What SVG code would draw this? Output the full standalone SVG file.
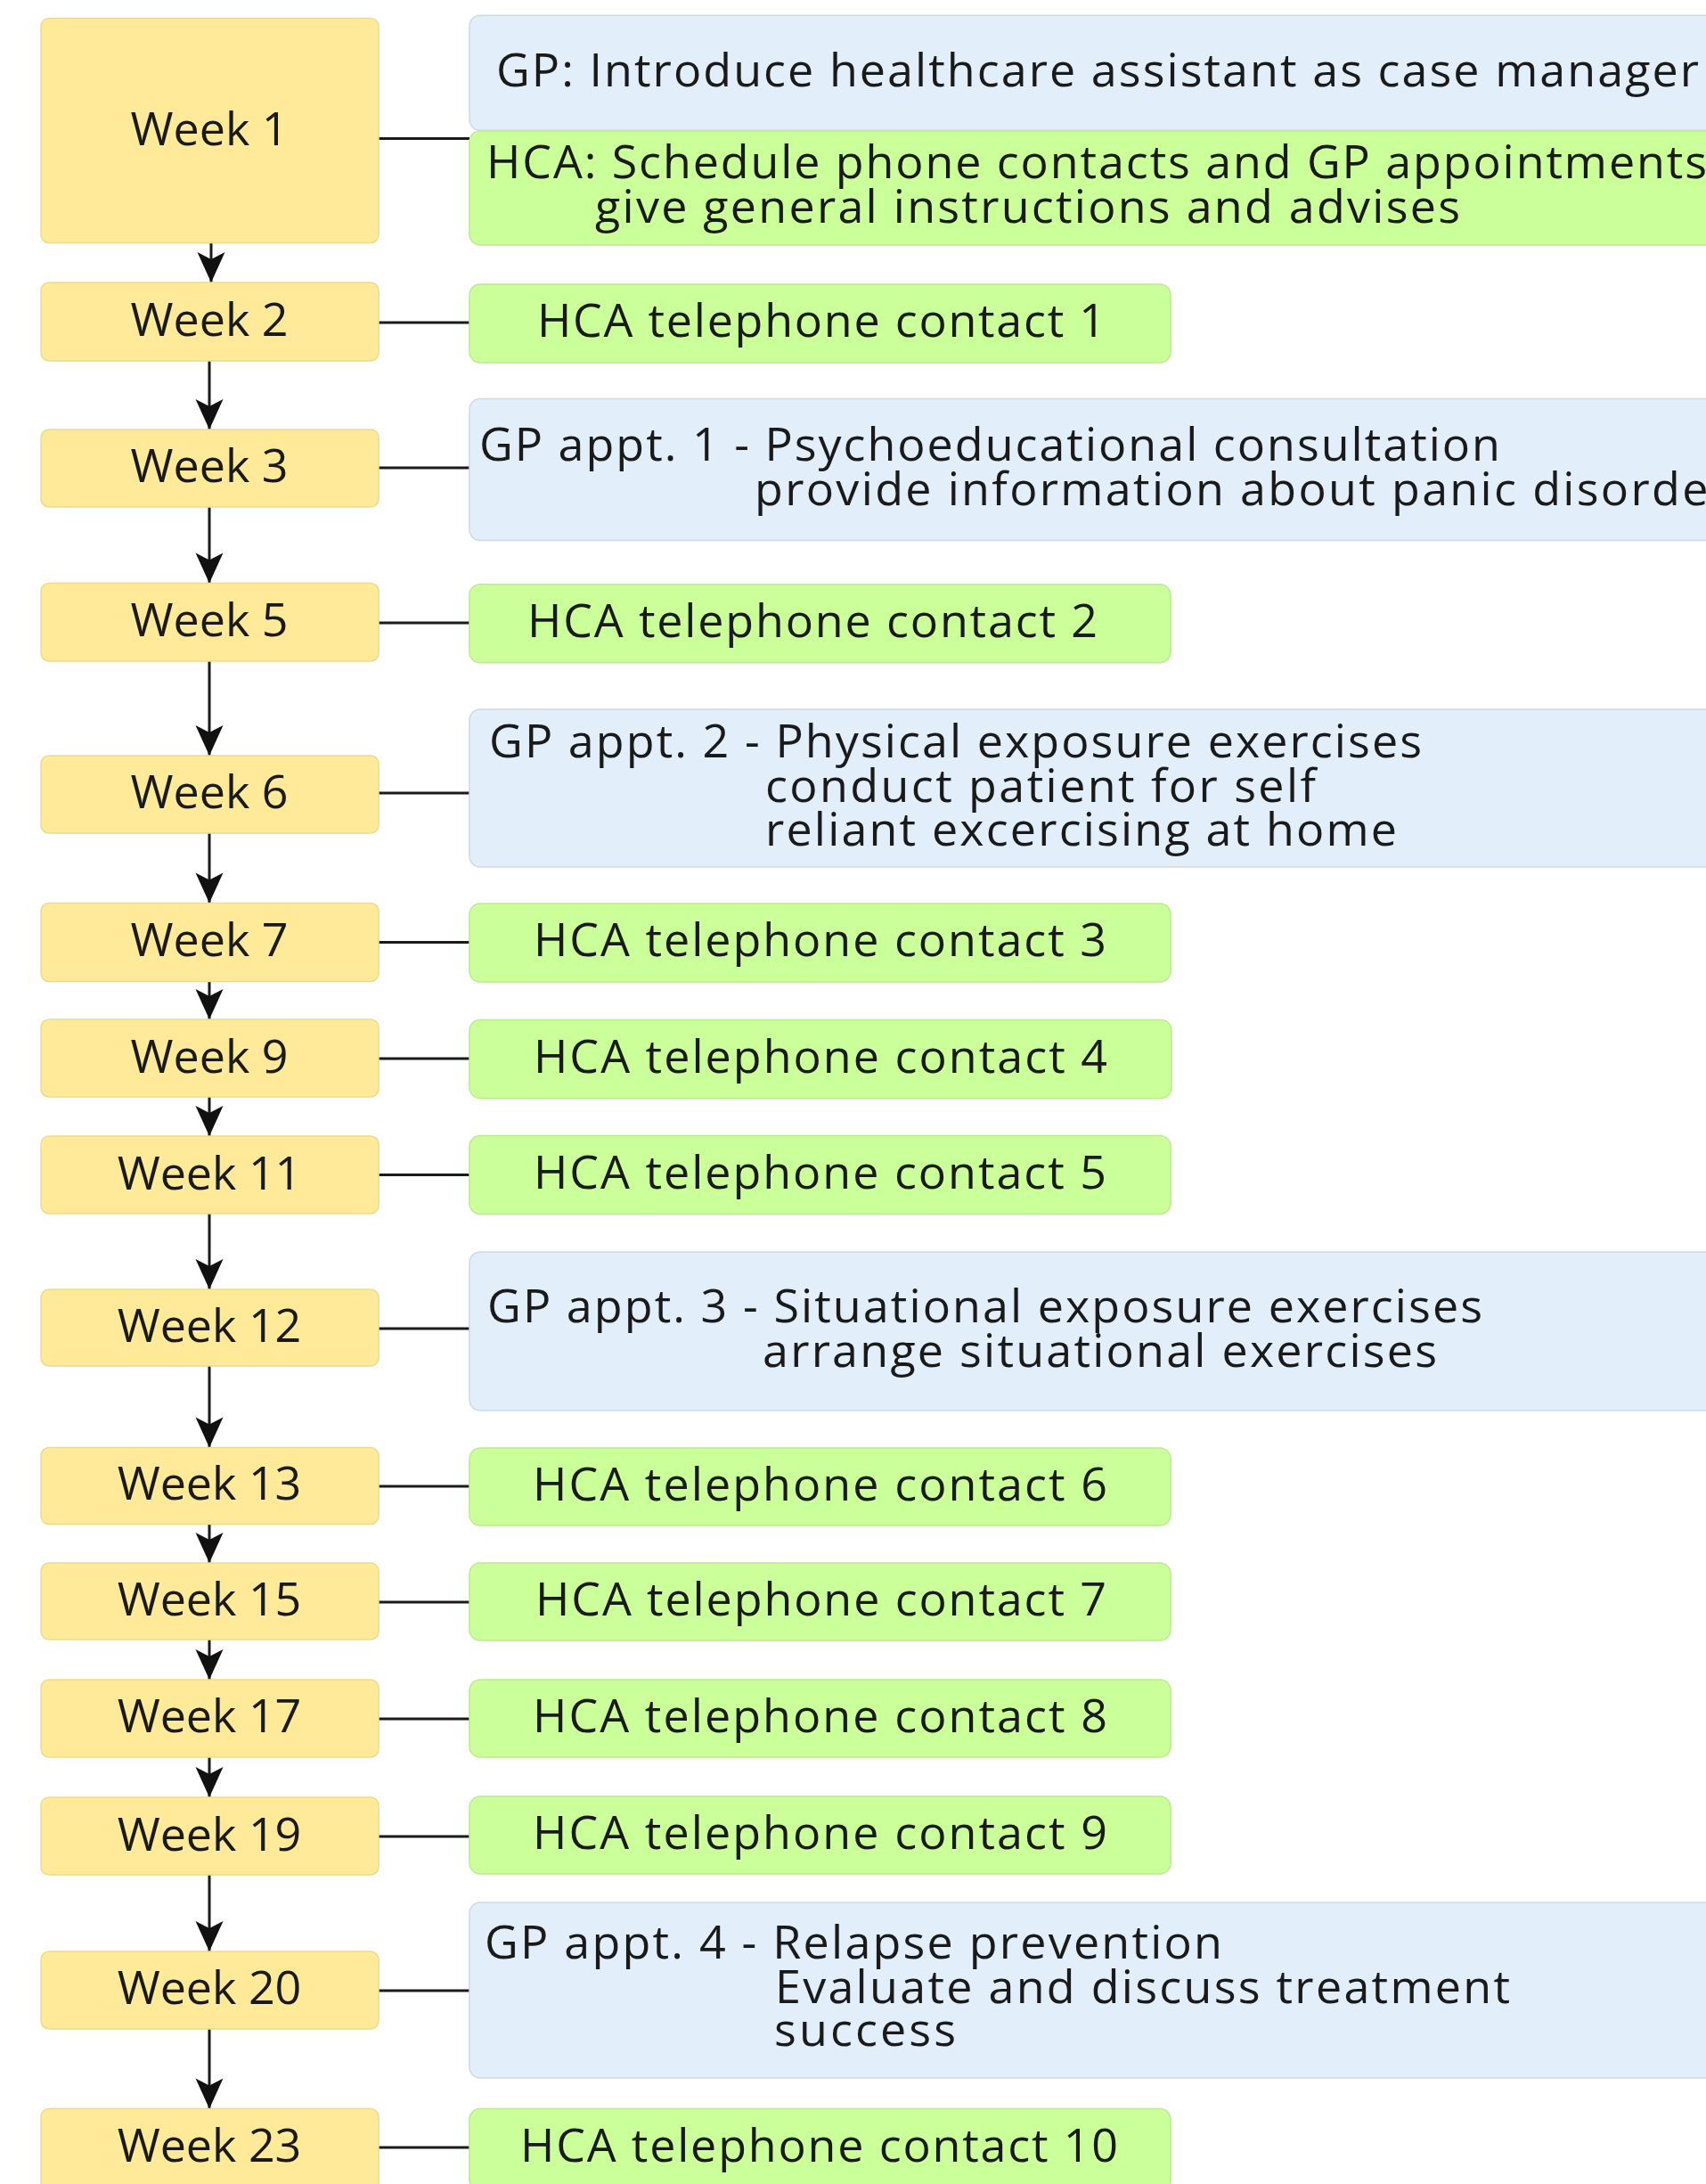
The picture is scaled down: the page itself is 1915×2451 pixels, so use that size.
<svg xmlns="http://www.w3.org/2000/svg" width="1915" height="2451" viewBox="0 0 1915 2451">
<defs>
<style>
.wk{fill:#FEEA98;stroke:#ecdb8e;stroke-width:1.5}
.gr{fill:#CBFF99;stroke:#bde98f;stroke-width:1.5}
.bl{fill:#E2EEFA;stroke:#cfd9e4;stroke-width:1.5}
text{font-family:"Open Sans","Noto Sans","Liberation Sans",sans-serif;font-size:52px;fill:#1a1a1a}
.wt{text-anchor:middle}
.ln{stroke:#1a1a1a;stroke-width:3;fill:none}
.ar{stroke:#1a1a1a;stroke-width:3;fill:none;marker-end:url(#ah)}
</style>
<marker id="ah" markerUnits="userSpaceOnUse" viewBox="-36 -17 38 34" refX="0" refY="0" markerWidth="38" markerHeight="34" orient="auto">
<path d="M0,0 L-34,-15.5 L-26,0 L-34,15.5 Z" fill="#111"/>
</marker>
</defs>
<rect width="1915" height="2451" fill="#ffffff"/>

<g id="connectors">
<path class="ln" d="M425,155.5 H527"/>
<path class="ln" d="M425,362 H527"/>
<path class="ln" d="M425,525 H527"/>
<path class="ln" d="M425,699 H527"/>
<path class="ln" d="M425,890 H527"/>
<path class="ln" d="M425,1057.5 H527"/>
<path class="ln" d="M425,1188 H527"/>
<path class="ln" d="M425,1318.5 H527"/>
<path class="ln" d="M425,1491 H527"/>
<path class="ln" d="M425,1668 H527"/>
<path class="ln" d="M425,1798 H527"/>
<path class="ln" d="M425,1929 H527"/>
<path class="ln" d="M425,2061 H527"/>
<path class="ln" d="M425,2234 H527"/>
<path class="ln" d="M425,2410 H527"/>
<path class="ar" d="M237,272.5 V317"/>
<path class="ar" d="M235,405 V482"/>
<path class="ar" d="M235,569 V654.5"/>
<path class="ar" d="M235,742 V848"/>
<path class="ar" d="M235,935 V1013.5"/>
<path class="ar" d="M235,1101.5 V1144"/>
<path class="ar" d="M235,1231 V1275"/>
<path class="ar" d="M235,1362 V1447"/>
<path class="ar" d="M235,1533 V1624.5"/>
<path class="ar" d="M235,1710.5 V1754"/>
<path class="ar" d="M235,1840 V1885"/>
<path class="ar" d="M235,1972 V2017"/>
<path class="ar" d="M235,2104 V2190"/>
<path class="ar" d="M235,2277 V2366.6"/>
</g>

<g id="week1"><rect class="wk" x="46" y="20.5" width="379" height="252" rx="9"/><text class="wt" x="235" y="163">Week 1</text></g>
<g id="week2"><rect class="wk" x="46" y="317" width="379" height="88" rx="9"/><text class="wt" x="235" y="377">Week 2</text></g>
<g id="week3"><rect class="wk" x="46" y="482" width="379" height="87" rx="9"/><text class="wt" x="235" y="541">Week 3</text></g>
<g id="week5"><rect class="wk" x="46" y="654.5" width="379" height="87.5" rx="9"/><text class="wt" x="235" y="714">Week 5</text></g>
<g id="week6"><rect class="wk" x="46" y="848" width="379" height="87" rx="9"/><text class="wt" x="235" y="907">Week 6</text></g>
<g id="week7"><rect class="wk" x="46" y="1013.5" width="379" height="88" rx="9"/><text class="wt" x="235" y="1073">Week 7</text></g>
<g id="week9"><rect class="wk" x="46" y="1144" width="379" height="87" rx="9"/><text class="wt" x="235" y="1204">Week 9</text></g>
<g id="week11"><rect class="wk" x="46" y="1275" width="379" height="87" rx="9"/><text class="wt" x="235" y="1335">Week 11</text></g>
<g id="week12"><rect class="wk" x="46" y="1447" width="379" height="86" rx="9"/><text class="wt" x="235" y="1506">Week 12</text></g>
<g id="week13"><rect class="wk" x="46" y="1624.5" width="379" height="86" rx="9"/><text class="wt" x="235" y="1683">Week 13</text></g>
<g id="week15"><rect class="wk" x="46" y="1754" width="379" height="86" rx="9"/><text class="wt" x="235" y="1813">Week 15</text></g>
<g id="week17"><rect class="wk" x="46" y="1885" width="379" height="87" rx="9"/><text class="wt" x="235" y="1944">Week 17</text></g>
<g id="week19"><rect class="wk" x="46" y="2017" width="379" height="87" rx="9"/><text class="wt" x="235" y="2077">Week 19</text></g>
<g id="week20"><rect class="wk" x="46" y="2190" width="379" height="87" rx="9"/><text class="wt" x="235" y="2249">Week 20</text></g>
<g id="week23"><rect class="wk" x="46" y="2366.6" width="379" height="92" rx="9"/><text class="wt" x="235" y="2426">Week 23</text></g>

<g id="gp-intro"><rect class="bl" x="527" y="17.3" width="1450" height="129" rx="12"/><text x="557" y="97" textLength="1350">GP: Introduce healthcare assistant as case manager</text></g>
<g id="hca-schedule"><rect class="gr" x="527" y="147" width="1450" height="128" rx="12"/><text x="546" y="200" textLength="1370">HCA: Schedule phone contacts and GP appointments</text><text x="668" y="250" textLength="971">give general instructions and advises</text></g>
<g id="hca1"><rect class="gr" x="527" y="319" width="787" height="88" rx="12"/><text x="603" y="378" textLength="638">HCA telephone contact 1</text></g>
<g id="gp1"><rect class="bl" x="527" y="447.5" width="1450" height="159" rx="12"/><text x="538" y="517" textLength="1146">GP appt. 1 - Psychoeducational consultation</text><text x="847" y="567" textLength="1094">provide information about panic disorder</text></g>
<g id="hca2"><rect class="gr" x="527" y="655.7" width="787" height="88" rx="12"/><text x="592" y="715" textLength="640">HCA telephone contact 2</text></g>
<g id="gp2"><rect class="bl" x="527" y="796" width="1450" height="177" rx="12"/><text x="549" y="850" textLength="1047">GP appt. 2 - Physical exposure exercises</text><text x="859" y="900" textLength="618">conduct patient for self</text><text x="859" y="949" textLength="709">reliant excercising at home</text></g>
<g id="hca3"><rect class="gr" x="527" y="1014" width="787" height="88" rx="12"/><text x="599" y="1073" textLength="643">HCA telephone contact 3</text></g>
<g id="hca4"><rect class="gr" x="527" y="1144.5" width="788" height="88" rx="12"/><text x="599" y="1204" textLength="644">HCA telephone contact 4</text></g>
<g id="hca5"><rect class="gr" x="527" y="1274.5" width="787" height="88" rx="12"/><text x="599" y="1334" textLength="643">HCA telephone contact 5</text></g>
<g id="gp3"><rect class="bl" x="527" y="1405" width="1450" height="178" rx="12"/><text x="547" y="1484" textLength="1117">GP appt. 3 - Situational exposure exercises</text><text x="856" y="1534" textLength="757">arrange situational exercises</text></g>
<g id="hca6"><rect class="gr" x="527" y="1625" width="787" height="87" rx="12"/><text x="598" y="1684" textLength="645">HCA telephone contact 6</text></g>
<g id="hca7"><rect class="gr" x="527" y="1754" width="787" height="87" rx="12"/><text x="601" y="1813" textLength="641">HCA telephone contact 7</text></g>
<g id="hca8"><rect class="gr" x="527" y="1885" width="787" height="87" rx="12"/><text x="598" y="1944" textLength="645">HCA telephone contact 8</text></g>
<g id="hca9"><rect class="gr" x="527" y="2016" width="787" height="87" rx="12"/><text x="598" y="2075" textLength="645">HCA telephone contact 9</text></g>
<g id="gp4"><rect class="bl" x="527" y="2135" width="1450" height="197" rx="12"/><text x="544" y="2198" textLength="828">GP appt. 4 - Relapse prevention</text><text x="870" y="2248" textLength="825">Evaluate and discuss treatment</text><text x="869" y="2296" textLength="204">success</text></g>
<g id="hca10"><rect class="gr" x="527" y="2366.6" width="787" height="92" rx="12"/><text x="584" y="2426" textLength="671">HCA telephone contact 10</text></g>
</svg>
